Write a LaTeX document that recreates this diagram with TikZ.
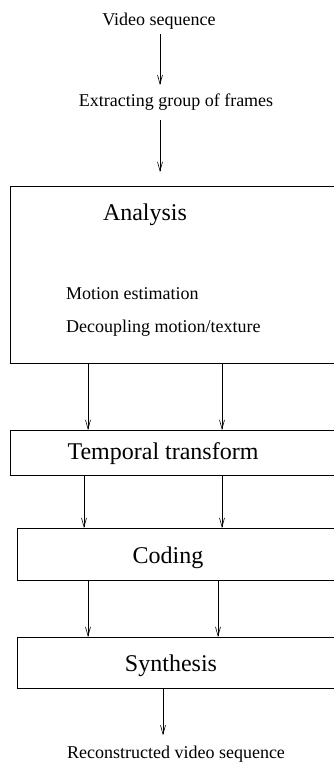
\documentclass[tikz,border=0pt]{standalone}
\usepackage{fontspec}
\setmainfont{Liberation Serif}
\usetikzlibrary{arrows.meta}
\begin{document}
\begin{tikzpicture}[x=1pt,y=-1pt]
			\tikzstyle{box}=[draw=black,line width=0.8pt,minimum width=335pt,anchor=north west,inner sep=0pt]
			\tikzstyle{txt}=[font=\fontsize{18}{20}\selectfont,inner sep=0pt,anchor=base]
			\tikzstyle{big}=[font=\fontsize{24}{26}\selectfont,inner sep=0pt,anchor=base]
			\tikzstyle{arr}=[-{Straight Barb[length=9pt,width=5pt]},line width=0.6pt]
			\useasboundingbox (0,0) rectangle (334,767);
			\clip (0,0) rectangle (334,767);
			\begin{scope}
			\node[txt,inner ysep=4pt] (video) at (159,26) {Video sequence};
			\node[txt,inner ysep=9pt] (extract) at (176,107) {Extracting group of frames};
			
			\node[box,minimum height=177pt] (analysis) at (10,186) {};
			\node[big] (analysis-t) at (145,220) {Analysis};
			\node[txt,anchor=base west] (motion) at (66,299) {Motion estimation};
			\node[txt,anchor=base west] (decouple) at (66,332) {Decoupling motion/texture};
			
			\node[box,minimum height=45pt] (temporal) at (10,430) {};
			\node[big] (temporal-t) at (163,459) {Temporal transform};
			
			\node[box,minimum height=52pt] (coding) at (17,528) {};
			\node[big] (coding-t) at (168,563) {Coding};
			
			\node[box,minimum height=51pt] (synthesis) at (17,637) {};
			\node[big] (synthesis-t) at (171,671) {Synthesis};
			
			\node[txt,inner ysep=10pt] (recon) at (176,758) {Reconstructed video sequence};
			\end{scope}
			
			\path[arr]
			(160,0 |- video.south) edge (160,0 |- extract.north)
			(160,0 |- extract.south) edge[shorten >=14pt] (160,0 |- analysis.north)
			
			(88,0 |- analysis.south) edge (88,0 |- temporal.north)
			(222,0 |- analysis.south) edge (222,0 |- temporal.north)
			(84,0 |- temporal.south) edge (84,0 |- coding.north)
			(222,0 |- temporal.south) edge (222,0 |- coding.north)
			(88,0 |- coding.south) edge (88,0 |- synthesis.north)
			(218,0 |- coding.south) edge (218,0 |- synthesis.north)
			(163,0 |- synthesis.south) edge (163,0 |- recon.north)
			;
\end{tikzpicture}
\end{document}
